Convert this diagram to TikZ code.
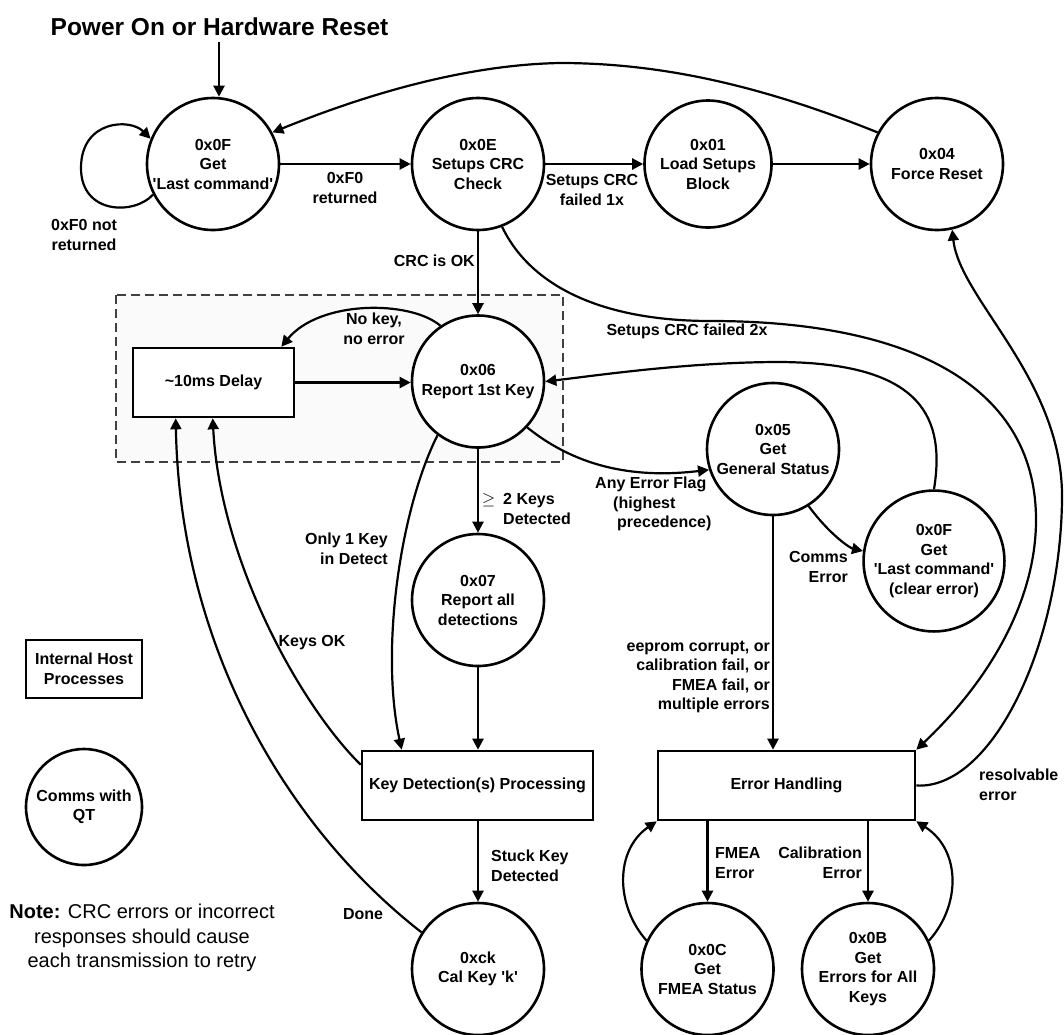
\documentclass[tikz,border=0pt]{standalone}
\usepackage{fontspec}
\setmainfont{Liberation Sans}[Ligatures=TeXOff]
\usetikzlibrary{arrows.meta,calc}
\begin{document}
\begin{tikzpicture}[x=1pt,y=-1pt,
  st/.style={circle, draw, fill=white, line width=2.6pt, minimum size=132pt, inner sep=0pt, align=center, font=\fontsize{16}{19.5}\selectfont\bfseries},
  proc/.style={rectangle, draw, fill=white, line width=2.6pt, inner sep=0pt, align=center, font=\fontsize{16}{19.5}\selectfont\bfseries},
  arr/.style={line width=2.2pt, -{Triangle[length=11pt,width=11pt]}},
  lbl/.style={inner sep=0pt, font=\fontsize{16}{19.5}\selectfont\bfseries},
  grp/.style={draw=black!75, line width=1.8pt, dash pattern=on 9pt off 5pt, fill=black!2}
]
\useasboundingbox (0,0) rectangle (1064,1034);

% group box
\draw[grp] (116,295) rectangle (563,462);

% title
\node[inner sep=0pt, font=\fontsize{24.5}{28}\selectfont\bfseries] (title) at (219.5,27) {Power On or Hardware Reset};
\coordinate (pstart) at (219,42);

% states
\node[st] (n0F) at (213,164) {0x0F\\Get\\'Last command'};
\node[st] (n0E) at (478,164) {0x0E\\Setups CRC\\Check};
\node[st, minimum size=127pt] (n01) at (708,164) {0x01\\Load Setups\\Block};
\node[st] (n04) at (937,164) {0x04\\Force Reset};
\node[st] (n06) at (478,381.5) {0x06\\Report 1st Key};
\node[st] (n05) at (773,449) {0x05\\Get\\General Status};
\node[st] (n0Fc) at (934,561) {0x0F\\Get\\'Last command'\\(clear error)};
\node[st] (n07) at (478,600) {0x07\\Report all\\detections};
\node[st] (nck) at (478,969) {0xck\\Cal Key 'k'};
\node[st] (n0C) at (707.5,969) {0x0C\\Get\\FMEA Status};
\node[st] (n0B) at (868,969) {0x0B\\Get\\Errors for All\\Keys};

% processes
\node[proc, minimum width=161pt, minimum height=69pt] (delay) at (213.5,382.5) {\textasciitilde 10ms Delay};
\node[proc, minimum width=231pt, minimum height=69pt] (keydet) at (477.5,785.5) {Key Detection(s) Processing};
\node[proc, minimum width=257pt, minimum height=69pt] (errh) at (786.5,785.5) {Error Handling};

% legend
\node[proc, minimum width=116pt, minimum height=58pt] (lgbox) at (84,669) {Internal Host\\Processes};
\node[st, minimum size=116pt] (lgcirc) at (84,807) {Comms with\\QT};
\node[inner sep=0pt, align=center, font=\fontsize{20}{24.5}\selectfont] (note) at (142,938) {\textbf{Note:} CRC errors or incorrect\\responses should cause\\each transmission to retry};

% connectors
\draw[arr] (pstart) -- (pstart |- n0F.north);
\draw[arr] (n0F.207) .. controls (135,215) and (81,215) .. (81,168) .. controls (81,120) and (130,118) .. (n0F.158);
\draw[arr] (n0F) -- (n0E);
\draw[arr] (n0E) -- (n01);
\draw[arr] (n01) -- (n04);
\draw[arr] (n04.152) .. controls (760,85) and (660,63) .. (560,63) .. controls (450,65) and (340,105) .. (n0F.28);
\draw[arr] (n0E) -- (n06);
\draw[arr] (delay.east) -- (delay.east -| n06.west);
\draw[arr] (n06.124) .. controls (410,300) and (320,300) .. ($(delay.north east)+(-14,0)$);
\draw[arr] ($(keydet.north west)+(0,15)$) .. controls (300,705) and (220,560) .. ($(delay.south west)+(81,0)$);
\draw[arr] (nck.147) .. controls (290,830) and (180,650) .. ($(delay.south west)+(44,0)$);
\draw[arr] (n06.233) .. controls (400,510) and (380,650) .. ($(keydet.north west)+(41,0)$);
\draw[arr] (n06) -- (n07);
\draw[arr] (n07.south) -- (n07.south |- keydet.north);
\draw[arr] (keydet.south -| nck.north) -- (nck.north);
\draw[arr] (n06.-43) .. controls (580,470) and (640,478) .. (n05.198);
\draw[arr] (n05.south) -- (n05.south |- errh.north);
\draw[arr] (n05.-58) .. controls (830,535) and (850,548) .. (n0Fc.172);
\draw[arr] (n0Fc.north) .. controls (945,420) and (925,363) .. (780,362) .. controls (690,362) and (600,375) .. (n06.east);
\draw[arr] (n0E.-69) .. controls (530,285) and (600,321) .. (711,321) .. controls (900,321) and (1036,380) .. (1036,520) .. controls (1036,600) and (990,680) .. (errh.north east);
\draw[arr] (errh.east) .. controls (990,790) and (1060,650) .. (1062,500) .. controls (1064,380) and (960,300) .. (n04.-77);
\draw[arr] (errh.south -| n0C.north) -- (n0C.north);
\draw[arr] (errh.south -| n0B.north) -- (n0B.north);
\draw[arr] (n0C.155) .. controls (615,905) and (615,850) .. (errh.south west);
\draw[arr] (n0B.25) .. controls (961,905) and (961,850) .. (errh.south east);

% labels
\node[lbl, align=center] (t1) at (84,235) {0xF0 not\\returned};
\node[lbl, align=center] (t2) at (345,188) {0xF0\\returned};
\node[lbl, anchor=east] (t3) at (475,261) {CRC is OK};
\node[lbl, align=center] (t4) at (592,190) {Setups CRC\\failed 1x};
\node[lbl] (t5) at (687,331) {Setups CRC failed 2x};
\node[lbl, align=center] (t6) at (374,329) {No key,\\no error};
\node[lbl, align=left, anchor=west] (t7) at (503,509) {\llap{\mdseries$\geq$\hspace{8pt}}2 Keys\\Detected};
\node[lbl, align=right, anchor=east] (t8) at (388,549) {Only 1 Key\\in Detect};
\node[lbl] (t9) at (312,643) {Keys OK};
\node[lbl] (t10) at (363,914) {Done};
\node[lbl, align=left, anchor=west] (t11) at (491,866) {Stuck Key\\Detected};
\node[lbl, align=left, anchor=west] (t12) at (595,504) {Any Error Flag\\\hspace*{18pt}(highest\\\hspace*{22pt}precedence)};
\node[lbl, align=right, anchor=east] (t13) at (770,677) {eeprom corrupt, or\\calibration fail, or\\FMEA fail, or\\multiple errors};
\node[lbl, align=right, anchor=east] (t14) at (848,567) {Comms\\Error};
\node[lbl, align=left, anchor=west] (t15) at (715,863) {FMEA\\Error};
\node[lbl, align=right, anchor=east] (t16) at (862,863) {Calibration\\Error};
\node[lbl, align=left, anchor=west] (t17) at (979,785) {resolvable\\error};
\end{tikzpicture}
\end{document}
